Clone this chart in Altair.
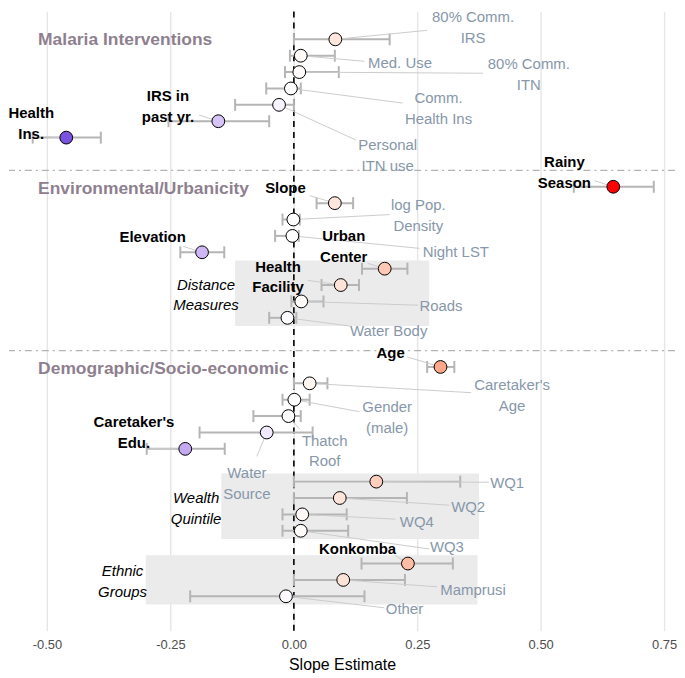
import altair as alt
import pandas as pd

# ---------------- data ----------------
names = ["80% Comm. IRS", "Med. Use", "80% Comm. ITN", "Comm. Health Ins", "Personal ITN use",
         "IRS in past yr.", "Health Ins.",
         "Rainy Season", "Slope", "log Pop. Density", "Night LST", "Elevation", "Urban Center",
         "Health Facility", "Roads", "Water Body",
         "Age", "Caretaker's Age", "Gender (male)", "Thatch Roof", "Water Source", "Caretaker's Edu.",
         "WQ1", "WQ2", "WQ4", "WQ3", "Konkomba", "Mamprusi", "Other"]
rows = [0, 1, 2, 3, 4, 5, 6,
        9, 10, 11, 12, 13, 14, 15, 16, 17,
        20, 21, 22, 23, 24, 25,
        27, 28, 29, 30, 32, 33, 34]
est = [0.084, 0.014, 0.011, -0.006, -0.030, -0.153, -0.461,
       0.647, 0.083, -0.001, -0.003, -0.186, 0.184, 0.095, 0.015, -0.013,
       0.297, 0.032, 0.001, -0.011, -0.055, -0.220,
       0.167, 0.093, 0.017, 0.014, 0.231, 0.100, -0.016]
lo = [0.000, -0.008, -0.018, -0.056, -0.119, -0.254, -0.529,
      0.567, 0.046, -0.023, -0.038, -0.230, 0.138, 0.056, -0.005, -0.050,
      0.270, 0.000, -0.023, -0.082, -0.191, -0.298,
      0.000, 0.000, -0.023, -0.023, 0.137, 0.000, -0.210]
hi = [0.194, 0.083, 0.091, 0.014, 0.000, -0.050, -0.391,
      0.729, 0.120, 0.012, 0.010, -0.141, 0.230, 0.132, 0.060, 0.005,
      0.325, 0.068, 0.032, 0.014, 0.038, -0.140,
      0.337, 0.229, 0.107, 0.110, 0.322, 0.225, 0.143]
significant = [False, False, False, False, False, True, True,
               True, True, False, False, True, True, True, False, False,
               True, False, False, False, False, True,
               False, False, False, False, True, False, False]

# repelled label text and placement (data units, centre of the text block)
lab_text = ["80% Comm.\nIRS", "Med. Use", "80% Comm.\nITN", "Comm.\nHealth Ins", "Personal\nITN use",
            "IRS in\npast yr.", "Health\nIns.",
            "Rainy\nSeason", "Slope", "log Pop.\nDensity", "Night LST", "Elevation", "Urban\nCenter",
            "Health\nFacility", "Roads", "Water Body",
            "Age", "Caretaker's\nAge", "Gender\n(male)", "Thatch\nRoof", "Water\nSource", "Caretaker's\nEdu.",
            "WQ1", "WQ2", "WQ4", "WQ3", "Konkomba", "Mamprusi", "Other"]
lab_x = [0.363, 0.215, 0.476, 0.293, 0.190, -0.255, -0.532,
         0.548, -0.017, 0.252, 0.328, -0.286, 0.101, -0.032, 0.298, 0.192,
         0.196, 0.442, 0.189, 0.0625, -0.095, -0.324,
         0.432, 0.353, 0.249, 0.310, 0.129, 0.363, 0.224]
lab_y = [-0.72, 1.46, 2.17, 4.24, 7.11, 4.11, 5.13,
         8.11, 9.05, 10.77, 13.0, 12.09, 12.63, 14.51, 16.29, 17.81,
         19.12, 21.75, 23.1, 25.13, 27.09, 23.99,
         27.09, 28.54, 29.45, 31.0, 31.1, 33.6, 34.76]
seg_x2 = [0.270, 0.143, 0.383, 0.220, 0.125, -0.192, -0.504,
          0.609, 0.032, 0.194, 0.254, -0.224, 0.149, 0.028, 0.252, 0.113,
          0.230, 0.359, 0.133, 0.012, -0.075, -0.290,
          0.395, 0.315, 0.206, 0.274, 0.204, 0.290, 0.183]
seg_y2 = [-0.55, 1.34, 2.07, 3.89, 6.14, 4.62, 5.96,
          8.63, 9.54, 10.70, 12.76, 12.64, 13.67, 14.71, 16.23, 17.50,
          19.39, 21.57, 22.73, 23.8, 25.46, 24.98,
          27.04, 28.44, 29.29, 31.11, 31.48, 33.42, 34.7]

group_names = ["Malaria Interventions", "Environmental/Urbanicity", "Demographic/Socio-economic"]
group_y = [0.06, 9.12, 20.1]
group_x = [-0.518, -0.518, -0.518]
separators = [8, 19]

box_names = ["Distance\nMeasures", "Wealth\nQuintile", "Ethnic\nGroups"]
box_x1 = [-0.119, -0.147, -0.300]
box_x2 = [0.274, 0.375, 0.372]
box_y1 = [13.5, 26.5, 31.5]
box_y2 = [17.5, 30.5, 34.5]
box_lab_x = [-0.178, -0.198, -0.347]
box_lab_y = [15.61, 28.62, 33.12]

tick_vals = [-0.5, -0.25, 0.0, 0.25, 0.5, 0.75]

# ---------------- layout constants ----------------
FONT = "Liberation Sans"
LINE_H = 21            # px between text lines
PX_PER_ROW = 16.455    # px per row unit for the chosen height / domain
half_line = LINE_H / PX_PER_ROW / 2


def first_line(y, text):
    n = text.count("\n") + 1
    return y - (n - 1) * half_line


# ---------------- frames ----------------
df = pd.DataFrame(dict(name=names, row=rows, est=est, lo=lo, hi=hi, sig=significant,
                       lab=lab_text, lx=lab_x, ly=lab_y, sx2=seg_x2, sy2=seg_y2))
df["ly1"] = [first_line(y, t) for y, t in zip(df["ly"], df["lab"])]
grp = pd.DataFrame(dict(name=group_names, x=group_x, y=group_y))
sep = pd.DataFrame(dict(y=separators))
box = pd.DataFrame(dict(name=box_names, x1=box_x1, x2=box_x2, y1=box_y1, y2=box_y2,
                        lx=box_lab_x, ly=box_lab_y))
box["ly1"] = [first_line(y, t) for y, t in zip(box["ly"], box["name"])]
zero = pd.DataFrame(dict(x=[0.0]))

xs = alt.Scale(domain=[-0.577, 0.772], nice=False, zero=False)
ys = alt.Scale(domain=[-1.70, 36.1], reverse=True, nice=False, zero=False)

axis = alt.Axis(values=tick_vals, grid=True, gridColor="#e6e6e6", gridWidth=1.4,
                ticks=False, domain=False,
                labelExpr="datum.value < 0 ? '-' + format(-datum.value, '.2f') : format(datum.value, '.2f')",
                labelFont=FONT, labelFontSize=13, labelColor="#4d4d4d", labelPadding=8,
                title="Slope Estimate", titleFont=FONT, titleFontSize=16,
                titleFontWeight="normal", titleColor="black", titlePadding=5)


def X(f):
    return alt.X(f, type="quantitative", scale=xs, axis=axis)


def Y(f):
    return alt.Y(f, type="quantitative", scale=ys, axis=None)


rects = alt.Chart(box).mark_rect(color="#ebebeb").encode(
    x=X("x1"), x2="x2:Q", y=Y("y1"), y2="y2:Q")

seps = alt.Chart(sep).mark_rule(color="#b3b3b3", strokeWidth=1.3,
                                strokeDash=[7, 4, 2, 4]).encode(y=Y("y"))

zline = alt.Chart(zero).mark_rule(color="black", strokeWidth=1.6,
                                  strokeDash=[6, 5]).encode(x=X("x"))

bars = alt.Chart(df).mark_rule(color="#b5b5b5", strokeWidth=2).encode(
    x=X("lo"), x2="hi:Q", y=Y("row"))
cap_lo = alt.Chart(df).mark_rule(color="#b5b5b5", strokeWidth=2, yOffset=-6, y2Offset=6).encode(
    x=X("lo"), y=Y("row"), y2="row:Q")
cap_hi = alt.Chart(df).mark_rule(color="#b5b5b5", strokeWidth=2, yOffset=-6, y2Offset=6).encode(
    x=X("hi"), y=Y("row"), y2="row:Q")

segs = alt.Chart(df).mark_rule(color="#cccccc", strokeWidth=1).encode(
    x=X("est"), y=Y("row"), x2="sx2:Q", y2="sy2:Q")

points = alt.Chart(df).mark_circle(size=165, stroke="black", strokeWidth=1, opacity=1).encode(
    x=X("est"), y=Y("row"),
    fill=alt.Fill("est:Q", legend=None,
                  scale=alt.Scale(domain=[-0.461, 0, 0.647],
                                  range=["#7b52e0", "#ffffff", "#ff0000"],
                                  interpolate="lab")))

txt_sig = alt.Chart(df).transform_filter("datum.sig").mark_text(
    font=FONT, fontSize=15, fontWeight="bold", color="black", lineBreak="\n",
    lineHeight=LINE_H, align="center", baseline="middle").encode(
    x=X("lx"), y=Y("ly1"), text="lab:N")
txt_ns = alt.Chart(df).transform_filter("!datum.sig").mark_text(
    font=FONT, fontSize=15, color="#8797aa", lineBreak="\n",
    lineHeight=LINE_H, align="center", baseline="middle").encode(
    x=X("lx"), y=Y("ly1"), text="lab:N")

heads = alt.Chart(grp).mark_text(font=FONT, fontSize=17.5, fontWeight="bold", color="#8e7f8f",
                                 align="left", baseline="middle").encode(
    x=X("x"), y=Y("y"), text="name:N")

box_txt = alt.Chart(box).mark_text(font=FONT, fontSize=15, fontStyle="italic", color="black",
                                   lineBreak="\n", lineHeight=LINE_H, align="center",
                                   baseline="middle").encode(
    x=X("lx"), y=Y("ly1"), text="name:N")

chart = alt.layer(rects, seps, zline, bars, cap_lo, cap_hi, segs, points,
                  txt_ns, txt_sig, heads, box_txt).properties(
    width=669, height=622, padding=0, background="white"
).configure_view(stroke=None)

chart.save("out.html", embed_options={"renderer": "svg", "actions": False})
